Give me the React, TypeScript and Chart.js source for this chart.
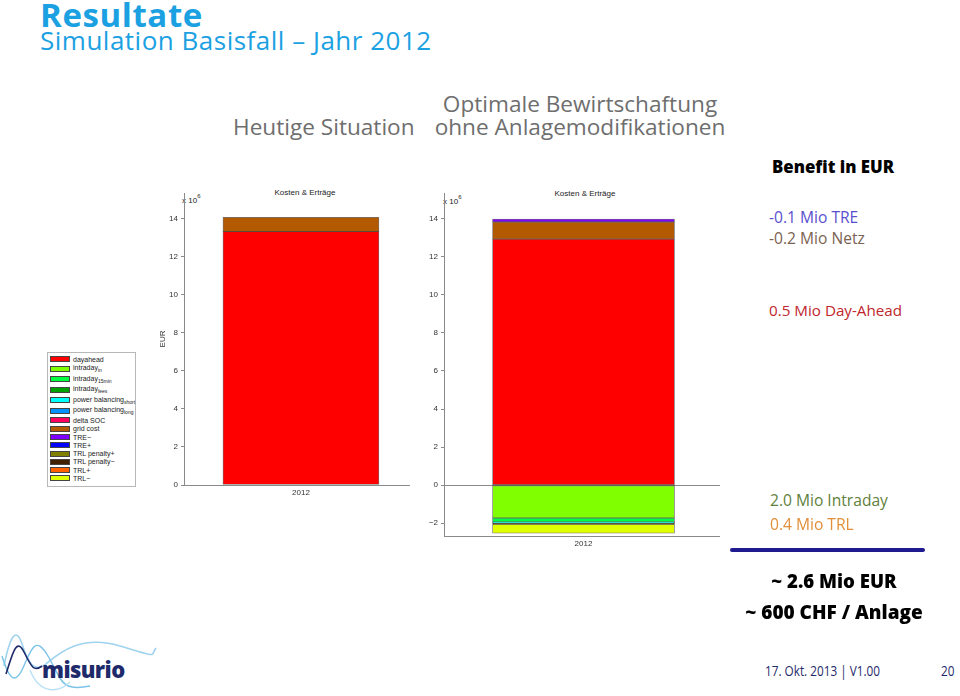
import React, { useEffect, useRef } from 'react';
import { Chart, registerables } from 'chart.js';

Chart.register(...registerables);

// ---------- data ----------
const categories = ['2012'];
const seriesKeys = [
  'dayahead', 'intraday_in', 'intraday_15min', 'intraday_fees',
  'power balancing_short', 'power balancing_long', 'delta SOC', 'grid cost',
  'TRE−', 'TRE+', 'TRL penalty+', 'TRL penalty−', 'TRL+', 'TRL−',
];
const legendBase = [
  'dayahead', 'intraday', 'intraday', 'intraday', 'power balancing', 'power balancing',
  'delta SOC', 'grid cost', 'TRE−', 'TRE+', 'TRL penalty+', 'TRL penalty−', 'TRL+', 'TRL−',
];
const legendSub = ['', 'in', '15min', 'fees', 'short', 'long', '', '', '', '', '', '', '', ''];
const seriesColors = [
  '#ff0000', '#80ff00', '#00ff40', '#00a000', '#00ffff', '#0090ff', '#ff0060',
  '#b35900', '#8000ff', '#0000ff', '#808000', '#402000', '#ff6000', '#e0ff00',
];
// values in 10^6 EUR
const heutigeValues = [13.32, 0, 0, 0, 0, 0, 0, 0.75, 0, 0, 0, 0, 0, 0];
const optimalValues = [12.93, -1.72, -0.21, 0, -0.04, 0, 0, 0.9, 0.15, 0, 0, -0.08, 0, -0.47];

const chartTitle = 'Kosten & Erträge';
const yAxisTitle = 'EUR';

const AXIS = '#8a8a8a';
const CHART_FONT = '"Liberation Sans", Arial, Helvetica, sans-serif';
const SLIDE_FONT = '"Open Sans", "Noto Sans", sans-serif';

type PanelProps = {
  values: number[];
  yMin: number; yMax: number; xMin: number; xMax: number;
  barPx: number; zeroLine: boolean; yTitle: string | null;
  left: number; top: number; width: number; height: number;
};

function BarPanel(p: PanelProps) {
  const ref = useRef<HTMLCanvasElement>(null);
  useEffect(() => {
    const chart = new Chart(ref.current as HTMLCanvasElement, {
      type: 'bar',
      data: {
        datasets: seriesKeys.map((k, i) => ({
          label: k,
          data: p.values[i] !== 0 ? [{ x: 1, y: p.values[i] }] : [],
          backgroundColor: seriesColors[i],
          borderColor: 'rgba(0,0,0,0.55)',
          borderWidth: 0.8,
          borderSkipped: false,
          barThickness: p.barPx,
          stack: 'total',
        })),
      } as any,
      options: {
        animation: false,
        responsive: false,
        maintainAspectRatio: false,
        layout: { padding: { top: 13, left: 0, right: 0, bottom: 0 } },
        plugins: { legend: { display: false }, tooltip: { enabled: false } },
        scales: {
          x: {
            type: 'linear',
            stacked: true,
            min: p.xMin,
            max: p.xMax,
            afterBuildTicks: (s: any) => { s.ticks = [{ value: 1 }]; },
            afterFit: (s: any) => { s.height = 20; },
            ticks: {
              callback: () => categories[0],
              font: { family: CHART_FONT, size: 8 },
              color: '#333',
              padding: 3,
              maxRotation: 0,
            },
            grid: { display: false, drawTicks: false, tickLength: 0 },
            border: { display: true, color: AXIS, width: 1 },
          },
          y: {
            stacked: true,
            min: p.yMin,
            max: p.yMax,
            afterFit: (s: any) => { s.width = 34; },
            ticks: {
              stepSize: 2,
              includeBounds: false,
              font: { family: CHART_FONT, size: 8 },
              color: '#333',
              padding: 3,
              callback: (v: any) => (v < 0 ? '\u2212' + Math.abs(v) : String(v)),
            },
            grid: {
              color: (c: any) => (p.zeroLine && c.tick && c.tick.value === 0 ? AXIS : 'rgba(0,0,0,0)'),
              tickColor: AXIS,
              tickLength: 3,
              lineWidth: 1,
            },
            border: { display: true, color: AXIS, width: 1 },
            title: p.yTitle
              ? { display: true, text: p.yTitle, font: { family: CHART_FONT, size: 8 }, color: '#333', padding: { top: 8, bottom: 0 } }
              : { display: false },
          },
        },
      } as any,
    });
    return () => chart.destroy();
  }, []);
  return (
    <canvas
      ref={ref}
      width={p.width}
      height={p.height}
      style={{ position: 'absolute', left: p.left, top: p.top, width: p.width, height: p.height }}
    />
  );
}

// text placed by baseline
function T(props: { x: number; base: number; size: number; children: any; color?: string; weight?: number | string; font?: string; align?: 'left' | 'center'; w?: number; asc?: number; style?: any }) {
  const asc = props.asc ?? 0.888;
  const top = props.base - asc * props.size;
  const common: any = {
    position: 'absolute',
    top,
    fontSize: props.size,
    lineHeight: 1,
    color: props.color ?? '#000',
    fontWeight: props.weight ?? 400,
    fontFamily: props.font ?? SLIDE_FONT,
    whiteSpace: 'nowrap',
    ...props.style,
  };
  if (props.align === 'center') {
    const w = props.w ?? 400;
    return <div style={{ ...common, left: props.x - w / 2, width: w, textAlign: 'center' }}>{props.children}</div>;
  }
  return <div style={{ ...common, left: props.x }}>{props.children}</div>;
}

function Legend() {
  return (
    <div style={{ position: 'absolute', left: 47, top: 352, width: 89, height: 135, border: '1px solid #b8b8b8', background: '#fff', boxSizing: 'border-box', paddingTop: 2 }}>
      {legendBase.map((b, i) => {
        const h = legendSub[i] ? 10.6 : 8.3;
        return (
          <div key={i} style={{ display: 'flex', alignItems: 'center', height: h, paddingLeft: 2 }}>
            <div style={{ width: 20, height: 6, background: seriesColors[i], border: '0.5px solid #444', boxSizing: 'border-box', flex: 'none' }} />
            <div style={{ marginLeft: 3, fontFamily: CHART_FONT, fontSize: 7, color: '#222', whiteSpace: 'nowrap', lineHeight: 1 }}>
              {b}
              {legendSub[i] ? <sub style={{ fontSize: 5, verticalAlign: -2 }}>{legendSub[i]}</sub> : null}
            </div>
          </div>
        );
      })}
    </div>
  );
}

function Logo() {
  return (
    <svg width={160} height={70} viewBox="0 0 160 70" style={{ position: 'absolute', left: 0, top: 626 }}>
      <path d="M4 40 C 10 10, 16 0, 22 18 S 34 48, 46 38 S 80 8, 120 20 S 150 30, 156 22" fill="none" stroke="#9fd3ee" strokeWidth={1.6} />
      <path d="M2 30 C 8 50, 14 60, 22 44 S 34 6, 48 30 S 60 66, 90 60" fill="none" stroke="#7cc3e8" strokeWidth={1.4} />
      <path d="M6 48 C 12 30, 16 10, 24 26 S 34 46, 42 40" fill="none" stroke="#1f2a6b" strokeWidth={1.6} />
      <path d="M30 44 C 40 70, 60 66, 70 56" fill="none" stroke="#b9e1f4" strokeWidth={1.4} />
    </svg>
  );
}

export default function App() {
  return (
    <div style={{ position: 'fixed', left: 0, top: 0, width: 960, height: 696, background: '#fff', overflow: 'hidden', fontFamily: SLIDE_FONT }}>
      <T x={40} base={27.5} size={33} weight={700} color="#1ba1e2" style={{ letterSpacing: 0.6 }}>Resultate</T>
      <T x={40} base={50} size={26} color="#1ba1e2" style={{ letterSpacing: 0.5 }}>Simulation Basisfall – Jahr 2012</T>

      <T x={233} base={136} size={22.6} color="#6e6e6e">Heutige Situation</T>
      <T x={580} base={113} size={22.6} color="#6e6e6e" align="center" w={340}>Optimale Bewirtschaftung</T>
      <T x={580} base={136} size={22.6} color="#6e6e6e" align="center" w={340}>ohne Anlagemodifikationen</T>

      {/* chart captions */}
      <T x={305} base={196} size={8} font={CHART_FONT} asc={0.8465} color="#222" align="center" w={120}>{chartTitle}</T>
      <T x={585} base={197} size={8} font={CHART_FONT} asc={0.8465} color="#222" align="center" w={120}>{chartTitle}</T>
      <T x={182} base={200} size={8} font={CHART_FONT} asc={0.8465} color="#222">x 10<sup style={{ fontSize: 6, verticalAlign: 5 }}>6</sup></T>
      <T x={443} base={201} size={8} font={CHART_FONT} asc={0.8465} color="#222">x 10<sup style={{ fontSize: 6, verticalAlign: 5 }}>6</sup></T>

      <BarPanel values={heutigeValues} yMin={0} yMax={15.35} xMin={0.465} xMax={1.465} barPx={156} zeroLine={false} yTitle={yAxisTitle} left={150} top={180} width={260} height={325} />
      <BarPanel values={optimalValues} yMin={-2.67} yMax={15.35} xMin={0.489} xMax={1.489} barPx={182} zeroLine={true} yTitle={null} left={410} top={180} width={310} height={376} />

      <Legend />

      {/* benefit column */}
      <T x={772} base={174} size={16.8} weight={800} color="#000">Benefit in EUR</T>
      <T x={769} base={224} size={15.6} color="#5a4fcf">-0.1 Mio TRE</T>
      <T x={769} base={245} size={15.6} color="#7b6352">-0.2 Mio Netz</T>
      <T x={769} base={316} size={15.2} color="#c0262c">0.5 Mio Day-Ahead</T>
      <T x={770} base={507} size={15.6} color="#5f7f3c">2.0 Mio Intraday</T>
      <T x={770} base={531} size={15.6} color="#e38f3a">0.4 Mio TRL</T>
      <div style={{ position: 'absolute', left: 730, top: 547.5, width: 195, height: 4, borderRadius: 2, background: '#1f1a8f' }} />
      <T x={834} base={589} size={18.6} weight={800} color="#000" align="center" w={240}>~ 2.6 Mio EUR</T>
      <T x={834} base={620} size={19} weight={800} color="#000" align="center" w={240}>~ 600 CHF / Anlage</T>

      {/* footer */}
      <Logo />
      <T x={42} base={678} size={22} weight={800} color="#1f2a6b" style={{ letterSpacing: -0.6 }}>misurio</T>
      <T x={765} base={676} size={14} color="#1f2a6b" style={{ transform: 'scaleX(0.84)', transformOrigin: 'left' }}>17. Okt. 2013 | V1.00</T>
      <T x={941} base={676} size={14} color="#1f2a6b" style={{ transform: 'scaleX(0.84)', transformOrigin: 'left' }}>20</T>
    </div>
  );
}
